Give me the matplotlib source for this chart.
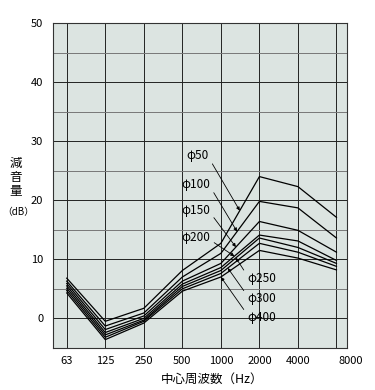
import matplotlib
matplotlib.use("Agg")
import matplotlib.pyplot as plt
from matplotlib.transforms import ScaledTranslation
import numpy as np

plt.rcParams['font.family'] = ['Noto Sans CJK JP', 'DejaVu Sans']

freq_labels = ["63", "125", "250", "500", "1000", "2000", "4000", "8000"]
series_names = ["φ50", "φ100", "φ150", "φ200", "φ250", "φ300", "φ400"]
phi50 = [6.8, -0.5, 1.7, 8.1, 12.7, 24.0, 22.3, 17.1]
phi100 = [6.3, -1.3, 0.9, 7.0, 11.0, 19.8, 18.7, 13.6]
phi150 = [5.9, -1.9, 0.4, 6.3, 9.3, 16.4, 14.9, 11.2]
phi200 = [5.5, -2.4, 0.0, 5.8, 8.6, 14.1, 13.1, 9.8]
phi250 = [5.1, -2.8, -0.3, 5.4, 8.1, 13.6, 12.0, 9.3]
phi300 = [4.7, -3.2, -0.5, 5.0, 7.6, 12.7, 11.2, 8.8]
phi400 = [4.3, -3.6, -0.8, 4.6, 7.0, 11.5, 10.2, 8.2]
series = [phi50, phi100, phi150, phi200, phi250, phi300, phi400]

# label positions (x index, y dB) and arrow targets
label_pos = [(3.40, 27.6), (3.35, 22.7), (3.35, 18.3), (3.35, 13.7),
             (5.06, 6.8), (5.06, 3.4), (5.06, 0.2)]
arrow_x = [4.49, 4.42, 4.39, 4.35, 4.39, 4.18, 4.0]

fig = plt.figure(figsize=(3.75, 3.90), dpi=100)
ax = fig.add_axes([0.141, 0.108, 0.784, 0.833])
ax.set_facecolor('#dce4e1')

x = list(range(len(freq_labels)))
for s in series:
    ax.plot(x, s, color='black', lw=0.9, zorder=3)

for name, (lx, ly), ax_x, s in zip(series_names, label_pos, arrow_x, series):
    ty = float(np.interp(ax_x, x, s))
    ax.annotate(name, xy=(ax_x, ty), xytext=(lx, ly), ha='center', va='center',
                fontsize=8.5, color='black', zorder=4,
                arrowprops=dict(arrowstyle='-|>', color='black', lw=0.6,
                                mutation_scale=5, shrinkA=1, shrinkB=0,
                                relpos=(1.0, 0.3) if lx < 4 else (0.0, 0.7)))

ax.set_xlim(-0.36, 7.27)
ax.set_ylim(-5, 50)
ax.set_xticks(x)
ax.set_xticklabels(freq_labels, fontsize=8)
ax.set_yticks([0, 10, 20, 30, 40, 50])
ax.set_yticks([-5, 5, 15, 25, 35, 45], minor=True)
ax.tick_params(axis='y', labelsize=8, length=0, pad=7)
ax.tick_params(axis='x', length=0, pad=6)
ax.tick_params(which='minor', length=0)
ax.grid(True, which='major', color='#222222', lw=0.7, zorder=1)
ax.grid(True, which='minor', axis='y', color='#777777', lw=0.7, zorder=1)
for sp in ax.spines.values():
    sp.set_color('#333333')
    sp.set_linewidth(0.8)

lbl = ax.get_xticklabels()[-1]
lbl.set_transform(lbl.get_transform() + ScaledTranslation(14 / 100, 0, fig.dpi_scale_trans))

fig.text(0.042, 0.582, "減", ha='center', va='center', fontsize=9)
fig.text(0.042, 0.545, "音", ha='center', va='center', fontsize=9)
fig.text(0.042, 0.508, "量", ha='center', va='center', fontsize=9)
fig.text(0.048, 0.457, "（dB）", ha='center', va='center', fontsize=7)
fig.text(0.565, 0.027, "中心周波数（Hz）", ha='center', va='center', fontsize=9)

fig.savefig("out.png", dpi=100)
